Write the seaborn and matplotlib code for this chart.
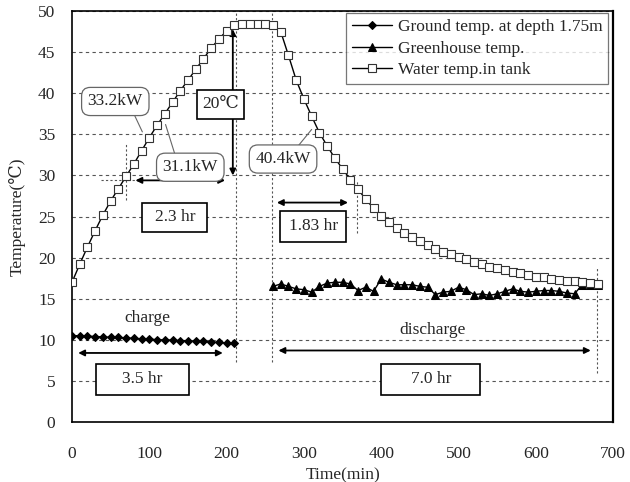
import numpy as np
import pandas as pd
import matplotlib
matplotlib.use("Agg")
import matplotlib.pyplot as plt
from matplotlib.patches import Rectangle
import seaborn as sns

# data (time in min, temperature in degC)
water_time = list(range(0, 690, 10))
water_temp = [17.0, 19.2, 21.3, 23.3, 25.2, 26.9, 28.4, 29.9, 31.4, 33.0,
              34.6, 36.1, 37.5, 38.9, 40.3, 41.6, 42.9, 44.2, 45.5, 46.6,
              47.6, 48.3, 48.4, 48.4, 48.4, 48.4, 48.3, 47.5, 44.6, 41.6,
              39.3, 37.2, 35.2, 33.6, 32.1, 30.8, 29.5, 28.3, 27.1, 26.0,
              25.1, 24.3, 23.6, 23.0, 22.5, 22.0, 21.5, 21.1, 20.7, 20.4,
              20.1, 19.8, 19.5, 19.2, 18.9, 18.7, 18.5, 18.3, 18.1, 17.9,
              17.7, 17.6, 17.4, 17.3, 17.2, 17.1, 17.0, 16.9, 16.8]

ground_time = list(range(0, 220, 10))
ground_temp = [10.5, 10.5, 10.45, 10.4, 10.35, 10.3, 10.3, 10.2, 10.2, 10.1,
               10.1, 10.0, 10.0, 9.95, 9.9, 9.9, 9.8, 9.8, 9.7, 9.7, 9.6, 9.6]

green_time = list(range(260, 690, 10))
green_temp = [16.5, 16.8, 16.5, 16.2, 16.1, 15.8, 16.5, 16.9, 17.0, 17.0,
              16.8, 16.0, 16.4, 15.9, 17.4, 17.0, 16.7, 16.7, 16.7, 16.5,
              16.4, 15.5, 15.8, 15.9, 16.4, 16.1, 15.5, 15.6, 15.4, 15.6,
              15.9, 16.2, 15.9, 15.8, 15.9, 16.0, 16.0, 15.9, 15.7, 15.6,
              16.7, 16.7, 16.7]

sns.set_style("white")
plt.rcParams["font.family"] = ["Liberation Serif", "DejaVu Serif", "DejaVu Sans"]

fig = plt.figure(figsize=(6.3, 4.82), dpi=100)
ax = fig.add_axes([0.1143, 0.1245, 0.859, 0.8525])

water = pd.DataFrame({"t": water_time, "T": water_temp})
ground = pd.DataFrame({"t": ground_time, "T": ground_temp})
green = pd.DataFrame({"t": green_time, "T": green_temp})

sns.lineplot(data=ground, x="t", y="T", ax=ax, color="black", lw=1,
             marker="D", markersize=4.5, markeredgecolor="black",
             label="Ground temp. at depth 1.75m", zorder=5)
sns.lineplot(data=green, x="t", y="T", ax=ax, color="black", lw=1,
             marker="^", markersize=6, markeredgecolor="black",
             label="Greenhouse temp.", zorder=5)
sns.lineplot(data=water, x="t", y="T", ax=ax, color="black", lw=1,
             marker="s", markersize=6, markerfacecolor="white",
             markeredgecolor="#333333", markeredgewidth=0.8,
             label="Water temp.in tank", zorder=6)

ax.set_xlim(0, 700)
ax.set_ylim(0, 50)
ax.set_xticks(range(0, 701, 100))
ax.set_yticks(range(0, 51, 5))
ax.yaxis.grid(True, ls=(0, (3, 3)), color="#555555", lw=0.8)
ax.set_axisbelow(True)
for s in ax.spines.values():
    s.set_color("black")
    s.set_linewidth(1.2)
ax.spines["right"].set_linewidth(1.6)
ax.tick_params(axis="x", direction="in", length=3, pad=17, labelsize=12.5)
ax.tick_params(axis="y", direction="in", length=0, pad=12, labelsize=12.5)
ax.set_xlabel("Time(min)", fontsize=12.5, labelpad=4)
ax.set_ylabel("Temperature(℃)", fontsize=12.5, labelpad=9)

# dotted reference lines
dot = dict(color="#555555", lw=0.8, ls=(0, (2, 2)), zorder=2)
ax.plot([212, 212], [7.3, 50], **dot)
ax.plot([259, 259], [7.3, 50], **dot)
ax.plot([679, 679], [6.0, 18.7], **dot)
ax.plot([70, 70], [27, 34], **dot)
ax.plot([368, 368], [23, 29.5], **dot)
ax.plot([38, 82], [29.4, 29.4], **dot)

arrow = dict(arrowstyle="<|-|>", color="black", lw=1.3,
             mutation_scale=9, shrinkA=0, shrinkB=0)
ax.annotate("", xy=(82, 29.4), xytext=(198, 29.4), arrowprops=arrow)
ax.annotate("", xy=(265, 26.7), xytext=(357, 26.7), arrowprops=arrow)
ax.annotate("", xy=(208, 47.8), xytext=(208, 30.0), arrowprops=arrow)
ax.annotate("", xy=(8, 8.4), xytext=(195, 8.4), arrowprops=arrow)
ax.annotate("", xy=(267, 8.7), xytext=(671, 8.7), arrowprops=arrow)

# labelled boxes: (x0, x1, y0, y1, text)
boxes = [(91, 175, 23.1, 26.7, "2.3 hr"),
         (269, 355, 21.9, 25.7, "1.83 hr"),
         (162, 223, 36.9, 40.4, "20℃"),
         (31, 151, 3.25, 7.1, "3.5 hr"),
         (400, 528, 3.25, 7.1, "7.0 hr")]
for x0, x1, y0, y1, txt in boxes:
    ax.add_patch(Rectangle((x0, y0), x1 - x0, y1 - y0, fc="white",
                           ec="black", lw=1.2, zorder=7))
    ax.text((x0 + x1) / 2, (y0 + y1) / 2, txt, ha="center", va="center",
            fontsize=12.5, zorder=8)

call = dict(boxstyle="round,pad=0.35,rounding_size=0.5", fc="white", ec="#666666", lw=0.9)
lead = dict(color="#666666", lw=0.8, zorder=6)
ax.plot([80, 91], [37.5, 35.3], **lead)
ax.text(56, 39.0, "33.2kW", ha="center", va="center", fontsize=12.5, bbox=call, zorder=7)
ax.plot([121, 134], [36.2, 32.3], **lead)
ax.text(153, 31.0, "31.1kW", ha="center", va="center", fontsize=12.5, bbox=call, zorder=7)
ax.plot([290, 310], [33.3, 35.6], **lead)
ax.text(273, 32.0, "40.4kW", ha="center", va="center", fontsize=12.5, bbox=call, zorder=7)

ax.text(98, 12.7, "charge", ha="center", va="center", fontsize=12.5)
ax.text(467, 11.2, "discharge", ha="center", va="center", fontsize=12.5)

leg = ax.legend(loc="upper right", bbox_to_anchor=(0.991, 0.995), fontsize=12.5,
                frameon=True, fancybox=False, edgecolor="#555555",
                handlelength=2.3, handletextpad=0.3, borderpad=0.35,
                labelspacing=0.3, borderaxespad=0)
leg.get_frame().set_linewidth(0.9)

fig.savefig("out.png", dpi=100)
